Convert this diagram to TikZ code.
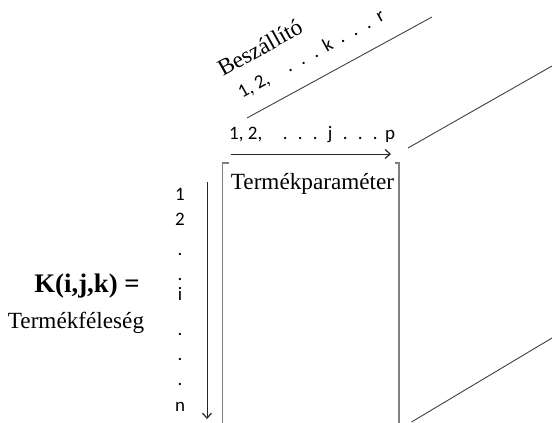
\documentclass[tikz,border=0pt]{standalone}
\usepackage{fontspec}
\setmainfont{Liberation Serif}
\newfontfamily\calib{Carlito}
\usetikzlibrary{arrows.meta}
\newcommand\seqtext[2]{1, 2,\hspace{15.5pt}\makebox[15pt]{.}\makebox[15pt]{.}\makebox[15pt]{.}\makebox[15pt]{#1}\makebox[15pt]{.}\makebox[15pt]{.}\makebox[15pt]{.}\makebox[15pt]{#2}}
\begin{document}
\begin{tikzpicture}[x=1pt,y=-1pt,
  sanslbl/.style={inner sep=0pt,font=\calib\fontsize{19}{22}\selectfont},
  seriflbl/.style={inner sep=0pt,font=\fontsize{23.2}{27}\selectfont},
  boldlbl/.style={inner sep=0pt,font=\bfseries\fontsize{26.8}{31}\selectfont},
  edgeline/.style={draw=black!75,line width=0.9pt},
  bracketline/.style={draw=black!50,line width=1.2pt},
  axisarrow/.style={draw=black!85,line width=1pt,-{Straight Barb[length=5pt,width=9pt,line width=1.2pt]}}]
\useasboundingbox (0,0) rectangle (552,423);
% texts
\node[sanslbl,anchor=base west] (jseq) at (229,139) {\seqtext{j}{p}};
\node[sanslbl,anchor=base west,rotate=29] (kseq) at (242,99) {\seqtext{k}{r}};
\node[seriflbl,anchor=base west,rotate=29] (besz) at (223,77) {Beszállító};
\node[seriflbl,anchor=base] (tparam) at (312.5,189) {Termékparaméter};
\node[boldlbl,anchor=base] (kijk) at (87,292) {K(i,j,k) =};
\node[seriflbl,anchor=base] (tfel) at (76,328) {Termékféleség};
% vertical labels
\foreach \t/\y/\n in {1/200/v1,2/225/v2,./255/v3,./280/v4,i/300/v5,./335/v6,./360/v7,./385/v8,n/411/v9}
  \node[sanslbl,anchor=base] (\n) at (180,\y) {\t};
% arrows
\coordinate (ha) at (231,154);
\coordinate (hb) at (391,154);
\draw[axisarrow] (ha) -- (hb);
\coordinate (va) at (207,182);
\coordinate (vb) at (207,419);
\draw[axisarrow] (va) -- (vb);
% brackets
\coordinate (lb1) at (229,163);
\coordinate (lb2) at (222.5,163);
\coordinate (lb3) at (222.5,424);
\draw[bracketline] (lb1) -- (lb2) -- (lb3);
\coordinate (rb1) at (395,163);
\coordinate (rb2) at (399,163);
\coordinate (rb3) at (399,424);
\draw[bracketline] (rb1) -- (rb2) -- (rb3);
% diagonal edges
\coordinate (d1a) at (247,118);
\coordinate (d1b) at (432,17);
\draw[edgeline] (d1a) -- (d1b);
\coordinate (d2a) at (408,148);
\coordinate (d2b) at (552,66);
\draw[edgeline] (d2a) -- (d2b);
\coordinate (d3a) at (411.5,422);
\coordinate (d3b) at (552,338);
\draw[edgeline] (d3a) -- (d3b);
\end{tikzpicture}
\end{document}
